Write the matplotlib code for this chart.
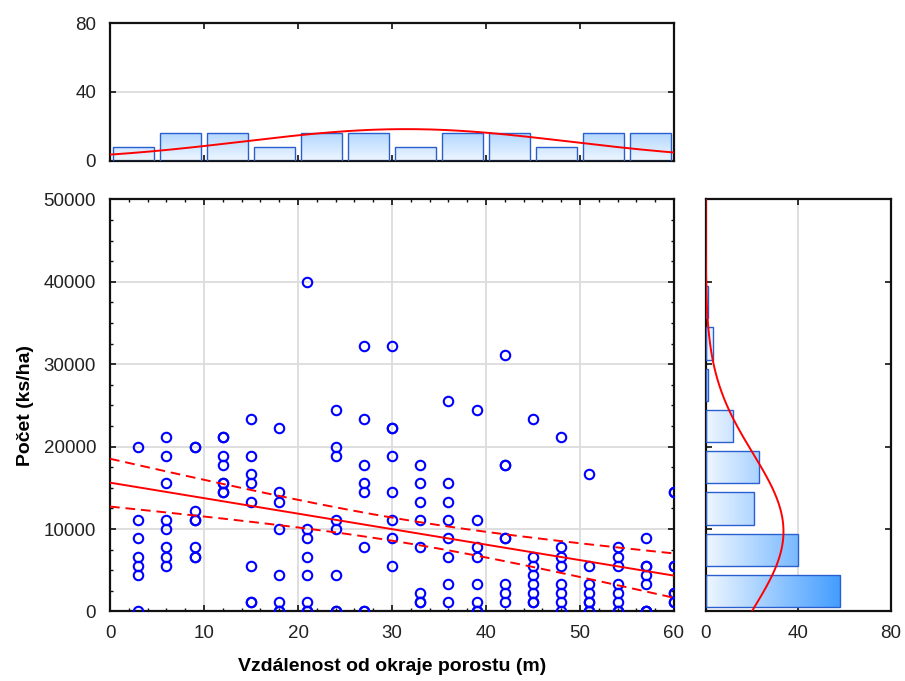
import numpy as np
import matplotlib
matplotlib.use("Agg")
import matplotlib.pyplot as plt
from matplotlib.patches import Rectangle
from matplotlib.colors import LinearSegmentedColormap
from matplotlib.ticker import MultipleLocator

plt.rcParams['font.family'] = ['Liberation Sans', 'DejaVu Sans']

# vzdalenost plochy od okraje porostu (m), 8 ploch na kazdou vzdalenost
vzdalenost = [
    3, 3, 3, 3, 3, 3, 3, 3,
    6, 6, 6, 6, 6, 6, 6, 6,
    9, 9, 9, 9, 9, 9, 9, 9,
    12, 12, 12, 12, 12, 12, 12, 12,
    15, 15, 15, 15, 15, 15, 15, 15,
    18, 18, 18, 18, 18, 18, 18, 18,
    21, 21, 21, 21, 21, 21, 21, 21,
    24, 24, 24, 24, 24, 24, 24, 24,
    27, 27, 27, 27, 27, 27, 27, 27,
    30, 30, 30, 30, 30, 30, 30, 30,
    33, 33, 33, 33, 33, 33, 33, 33,
    36, 36, 36, 36, 36, 36, 36, 36,
    39, 39, 39, 39, 39, 39, 39, 39,
    42, 42, 42, 42, 42, 42, 42, 42,
    45, 45, 45, 45, 45, 45, 45, 45,
    48, 48, 48, 48, 48, 48, 48, 48,
    51, 51, 51, 51, 51, 51, 51, 51,
    54, 54, 54, 54, 54, 54, 54, 54,
    57, 57, 57, 57, 57, 57, 57, 57,
    60, 60, 60, 60, 60, 60, 60, 60,
]
# pocet jedincu na plose 9 m2 (63 = odlehla hodnota mimo rozsah osy)
jedincu = [
    63, 18, 10, 8, 6, 5, 4, 0,
    19, 17, 14, 10, 9, 7, 6, 5,
    18, 18, 11, 10, 10, 7, 6, 6,
    19, 19, 17, 16, 14, 14, 13, 13,
    21, 17, 15, 14, 12, 5, 1, 1,
    20, 13, 12, 9, 4, 1, 0, 0,
    36, 9, 8, 6, 4, 1, 0, 0,
    22, 18, 17, 10, 9, 4, 0, 0,
    29, 21, 16, 14, 13, 7, 0, 0,
    29, 20, 20, 17, 13, 10, 8, 5,
    16, 14, 12, 10, 7, 2, 1, 1,
    23, 14, 12, 10, 8, 6, 3, 1,
    22, 10, 7, 6, 3, 1, 0, 0,
    28, 16, 16, 8, 8, 3, 2, 1,
    21, 6, 5, 4, 3, 2, 1, 1,
    19, 7, 6, 5, 3, 2, 1, 0,
    15, 5, 3, 2, 1, 1, 0, 0,
    7, 6, 5, 3, 2, 1, 0, 0,
    8, 5, 5, 4, 3, 0, 0, 0,
    13, 13, 5, 5, 2, 2, 1, 1,
]

x = np.array(vzdalenost, dtype=float)
y = np.array(jedincu, dtype=float) * 10000 / 9   # ks/ha
n = len(x)

x_edges = np.arange(0, 61, 5)
y_edges = np.arange(0, 50001, 5000)

def counts(v, edges):
    v = v[v <= edges[-1]]
    idx = np.clip(np.searchsorted(edges, v, side='left') - 1, 0, len(edges) - 2)
    return np.bincount(idx, minlength=len(edges) - 1)

cx = counts(x, x_edges)
cy = counts(y, y_edges)

cmap = LinearSegmentedColormap.from_list('modra', ['#eef6ff', '#3797ff'])
edge = '#2a5fcf'

def gradient_bar(ax, x0, y0, w, h, horizontal, vmax):
    rect = Rectangle((x0, y0), w, h, facecolor='none', edgecolor=edge, lw=1.0, zorder=3)
    ax.add_patch(rect)
    if horizontal:
        g = np.linspace(0, w / vmax, 200).reshape(1, -1)
    else:
        g = np.linspace(0, h / vmax, 200).reshape(-1, 1)
    im = ax.imshow(g, extent=(x0, x0 + w, y0, y0 + h), origin='lower', aspect='auto',
                   cmap=cmap, vmin=0, vmax=1, zorder=2, interpolation='bilinear')
    im.set_clip_path(rect)

def normal(t, m, s, scale):
    return scale * np.exp(-0.5 * ((t - m) / s) ** 2) / (s * np.sqrt(2 * np.pi))

def style(ax):
    for sp in ax.spines.values():
        sp.set_linewidth(1.6)
        sp.set_color('#111111')
    ax.tick_params(which='both', direction='in', top=True, right=True, colors='#111111',
                   labelsize=13.5, labelcolor='#222222', pad=9)
    ax.tick_params(which='major', length=4, width=1.2)
    ax.tick_params(which='minor', length=2.5, width=1.0)
    ax.grid(True, which='major', color='#dcdcdc', lw=1.3)
    ax.set_axisbelow(True)

fig = plt.figure(figsize=(9.05, 6.81), dpi=100)
ax = fig.add_axes([0.12155, 0.10206, 0.6232, 0.60528])
ax_top = fig.add_axes([0.12155, 0.76402, 0.6232, 0.20177])
ax_r = fig.add_axes([0.77978, 0.10206, 0.20442, 0.60528])

# hlavni graf
ax.plot(x, y, 'o', mfc='none', mec='#0000ff', ms=6.8, mew=1.5, zorder=4, clip_on=True)

b, a = np.polyfit(x, y, 1)
xs = np.linspace(0, 60, 200)
fit = a + b * xs
res = y - (a + b * x)
s = np.sqrt(np.sum(res ** 2) / (n - 2))
sxx = np.sum((x - x.mean()) ** 2)
se = s * np.sqrt(1 / n + (xs - x.mean()) ** 2 / sxx)
t = 1.975
ax.plot(xs, fit, color='#ff0000', lw=1.4, zorder=5)
ax.plot(xs, fit + t * se, color='#ff0000', lw=1.4, ls=(0, (5, 3)), zorder=5)
ax.plot(xs, fit - t * se, color='#ff0000', lw=1.4, ls=(0, (5, 3)), zorder=5)

ax.set_xlim(0, 60)
ax.set_ylim(0, 50000)
ax.xaxis.set_major_locator(MultipleLocator(10))
ax.xaxis.set_minor_locator(MultipleLocator(2))
ax.yaxis.set_major_locator(MultipleLocator(10000))
ax.yaxis.set_minor_locator(MultipleLocator(2500))
style(ax)
ax.tick_params(axis='x', pad=10)
ax.tick_params(axis='y', pad=10)
ax.set_xlabel('Vzdálenost od okraje porostu (m)', fontsize=14, fontweight='bold', labelpad=11)
ax.set_ylabel('Počet (ks/ha)', fontsize=14, fontweight='bold', labelpad=7)

# horni histogram
for i in range(len(cx)):
    gradient_bar(ax_top, x_edges[i] + 0.35, 0, 4.3, cx[i], False, 50)
xt = np.linspace(0, 60, 200)
ax_top.plot(xt, normal(xt, x.mean(), x.std(ddof=1), n * 5), color='#ff0000', lw=1.4, zorder=5)
ax_top.set_xlim(0, 60)
ax_top.set_ylim(0, 80)
ax_top.xaxis.set_major_locator(MultipleLocator(10))
ax_top.set_yticks([0, 40, 80])
style(ax_top)
ax_top.grid(False, axis='x')
ax_top.tick_params(labelbottom=False)
ax_top.tick_params(axis='y', pad=10)

# pravy histogram
for i in range(len(cy)):
    if cy[i] > 0:
        gradient_bar(ax_r, 0, y_edges[i] + 550, cy[i], 3900, True, 62)
yt = np.linspace(0, 50000, 300)
ax_r.plot(normal(yt, y.mean(), y.std(ddof=1), n * 5000), yt, color='#ff0000', lw=1.4, zorder=5)
ax_r.set_xlim(0, 80)
ax_r.set_ylim(0, 50000)
ax_r.set_xticks([0, 40, 80])
ax_r.yaxis.set_major_locator(MultipleLocator(10000))
style(ax_r)
ax_r.grid(False, axis='y')
ax_r.tick_params(axis='x', pad=10)
ax_r.tick_params(labelleft=False)

fig.savefig('out.png', dpi=100)
